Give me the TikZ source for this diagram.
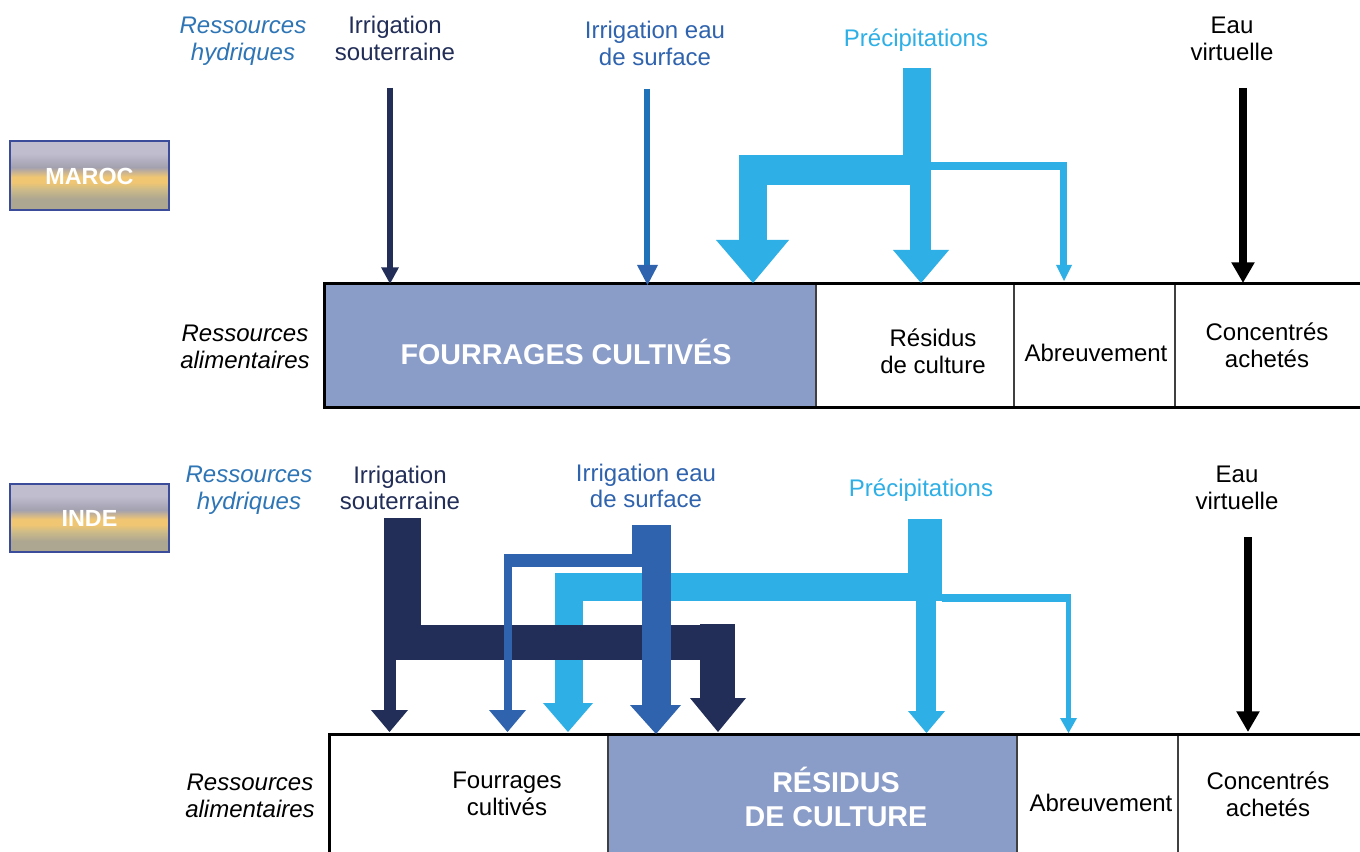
\documentclass[tikz,border=0pt]{standalone}
\usepackage{fontspec}
\setmainfont{Liberation Sans}
\usetikzlibrary{arrows.meta}
\definecolor{cNavy}{HTML}{222E58}
\definecolor{cMid}{HTML}{2F63AE}
\definecolor{cMidShaft}{HTML}{1F72B8}
\definecolor{cSky}{HTML}{2EAFE5}
\definecolor{cHyd}{HTML}{2E75B6}
\definecolor{cLav}{HTML}{8A9CC8}
\definecolor{cBorder}{HTML}{3B4C9B}
\definecolor{cTop}{HTML}{C0BDCF}
\definecolor{cGrey}{HTML}{A3A1B0}
\definecolor{cGold}{HTML}{F0C672}
\definecolor{cTan}{HTML}{CDBB88}
\definecolor{cBot}{HTML}{ADA691}
\pgfdeclareverticalshading{countryshade}{100bp}{%
  color(0bp)=(cBot); color(33bp)=(cBot); color(40bp)=(cTan); color(45bp)=(cGold);
  color(49bp)=(cGold); color(56bp)=(cGrey); color(66bp)=(cTop); color(100bp)=(cTop)}
\tikzset{
  lbl/.style={font=\fontsize{18}{20}\selectfont, align=center, inner sep=0pt},
  hyd/.style={lbl, font=\fontsize{18}{20}\selectfont\itshape, text=cHyd},
  alim/.style={lbl, font=\fontsize{18}{20}\selectfont\itshape, text=black},
  bigtxt/.style={font=\bfseries\fontsize{21.5}{26}\selectfont, text=white, align=center, inner sep=0pt},
  country/.style={font=\bfseries\fontsize{17.5}{20}\selectfont, text=white, inner sep=0pt},
  countrybox/.style={shading=countryshade},
  frameline/.style={line width=2.25pt, draw=black},
  divider/.style={line width=1.1pt, draw=black!75},
}
\begin{document}
\begin{tikzpicture}[x=0.75pt,y=-0.75pt]
\useasboundingbox (0,0) rectangle (1360,852);
\fill[white] (0,0) rectangle (1360,852);

% ---------- country boxes ----------
\shade[countrybox] (10,141) rectangle (169,210);
\draw[cBorder, line width=1.1pt] (10,141) rectangle (169,210);
\node[country] (maroc) at (89.5,176) {MAROC};
\shade[countrybox] (10,484) rectangle (169,552);
\draw[cBorder, line width=1.1pt] (10,484) rectangle (169,552);
\node[country] (inde) at (89.5,518) {INDE};

% ---------- top section labels ----------
\node[hyd] (hyd1) at (243,41) {Ressources\\hydriques};
\node[lbl, text=cNavy] (irs1) at (395,38.5) {Irrigation\\souterraine};
\node[lbl, text=cMid] (ire1) at (655,43.5) {Irrigation eau\\de surface};
\node[lbl, text=cSky] (pre1) at (916,40) {Précipitations};
\node[lbl, text=black] (vir1) at (1232,39) {Eau\\virtuelle};

% ---------- top row of boxes ----------
\fill[cLav] (324,284) rectangle (816,407);
\draw[divider] (816,284) -- (816,407);
\draw[divider] (1014,284) -- (1014,407);
\draw[divider] (1175,284) -- (1175,407);
\draw[frameline] (1360,284) -- (324,284) -- (324,407) -- (1360,407);
\node[alim] (ali1) at (245,347) {Ressources\\alimentaires};
\node[bigtxt] (fou1) at (566,352) {FOURRAGES CULTIVÉS};
\node[lbl] (res1) at (933,351) {Résidus\\de culture};
\node[lbl] (abr1) at (1096,353) {Abreuvement};
\node[lbl] (con1) at (1267,345) {Concentrés\\achetés};

% ---------- top arrows ----------
\draw[cNavy, line width=4.5pt, -{Triangle[width=12.5pt,length=12.5pt]}] (390,88) -- (390,284);
\draw[cMidShaft, line width=4.5pt] (647,89) -- (647,266);
\fill[cMid] (637,265) -- (658,265) -- (647.5,285) -- cycle;
\draw[black, line width=6pt, -{Triangle[width=16.5pt,length=15.5pt]}] (1243,88) -- (1243,283);

% precipitation flows (top)
\fill[cSky] (903,68) rectangle (931,185);
\fill[cSky] (739,155) rectangle (931,185);
\fill[cSky] (739,155) rectangle (767,241);
\fill[cSky] (716,240) -- (789,240) -- (753,283) -- cycle;
\fill[cSky] (910,185) rectangle (931,251);
\fill[cSky] (893,250) -- (949,250) -- (921,283) -- cycle;
\fill[cSky] (931,162) rectangle (1067,170);
\fill[cSky] (1060,162) rectangle (1067,266);
\fill[cSky] (1056,265) -- (1072,265) -- (1064,281) -- cycle;

% ---------- bottom section labels ----------
\node[hyd] (hyd2) at (249,490) {Ressources\\hydriques};
\node[lbl, text=cNavy] (irs2) at (400,488) {Irrigation\\souterraine};
\node[lbl, text=cMid] (ire2) at (646,486) {Irrigation eau\\de surface};
\node[lbl, text=cSky] (pre2) at (921,490) {Précipitations};
\node[lbl, text=black] (vir2) at (1237,488) {Eau\\virtuelle};

% ---------- bottom row of boxes ----------
\fill[cLav] (608,734) rectangle (1017,852);
\draw[divider] (608,734) -- (608,852);
\draw[divider] (1017,734) -- (1017,852);
\draw[divider] (1178,734) -- (1178,852);
\draw[frameline] (1360,734) -- (329,734) -- (329,853);
\node[alim] (ali2) at (250,796) {Ressources\\alimentaires};
\node[lbl] (fou2) at (507,794) {Fourrages\\cultivés};
\node[bigtxt] (res2) at (836,797) {RÉSIDUS\\DE CULTURE};
\node[lbl] (abr2) at (1101,803) {Abreuvement};
\node[lbl] (con2) at (1268,794) {Concentrés\\achetés};

% ---------- bottom flows ----------
% precipitations (underneath)
\fill[cSky] (908,519) rectangle (942,601);
\fill[cSky] (555,573) rectangle (942,601);
\fill[cSky] (555,573) rectangle (583,704);
\fill[cSky] (543,703) -- (593,703) -- (568,732) -- cycle;
\fill[cSky] (916,601) rectangle (936,712);
\fill[cSky] (908,711) -- (945,711) -- (926.5,733) -- cycle;
\fill[cSky] (942,594) rectangle (1071,602);
\fill[cSky] (1066,594) rectangle (1071,719);
\fill[cSky] (1060,718) -- (1077,718) -- (1068.5,733) -- cycle;
% groundwater irrigation
\fill[cNavy] (384,518) rectangle (421,660);
\fill[cNavy] (384,625) rectangle (735,660);
\fill[cNavy] (700,624) rectangle (735,699);
\fill[cNavy] (690,698) -- (746,698) -- (718,732) -- cycle;
\fill[cNavy] (384,660) rectangle (396,711);
\fill[cNavy] (371,710) -- (408,710) -- (389.5,732) -- cycle;
% surface irrigation
\fill[cMid] (632,525) rectangle (671,567);
\fill[cMid] (642,567) rectangle (671,706);
\fill[cMid] (630,705) -- (681,705) -- (656,734) -- cycle;
\fill[cMid] (504,554) rectangle (642,567);
\fill[cMid] (504,554) rectangle (512,711);
\fill[cMid] (489,710) -- (526,710) -- (507.5,732) -- cycle;
% virtual water
\draw[black, line width=6pt, -{Triangle[width=16.5pt,length=15.5pt]}] (1248,537) -- (1248,732);
\end{tikzpicture}
\end{document}
